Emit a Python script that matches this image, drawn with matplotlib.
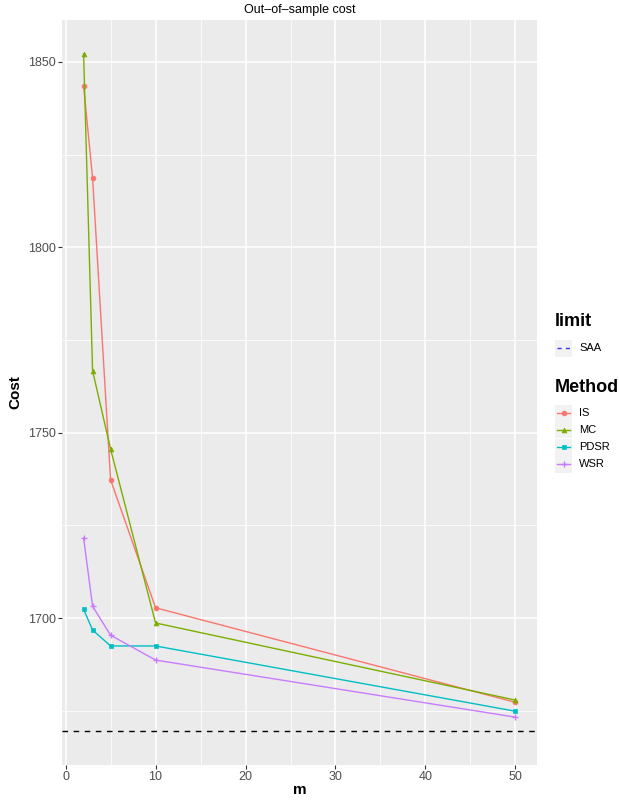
import matplotlib.pyplot as plt
from matplotlib.lines import Line2D
from matplotlib.patches import Rectangle

plt.rcParams["font.family"] = ["Liberation Sans", "DejaVu Sans"]

m = [2, 3, 5, 10, 50]
cost_is = [1843.5, 1818.7, 1737.3, 1702.8, 1677.3]
cost_mc = [1852.2, 1766.7, 1745.6, 1698.7, 1677.9]
cost_pdsr = [1702.4, 1696.8, 1692.5, 1692.5, 1674.9]
cost_wsr = [1721.6, 1703.2, 1695.4, 1688.7, 1673.3]
saa = 1669.5

methods = ["IS", "MC", "PDSR", "WSR"]
series = [cost_is, cost_mc, cost_pdsr, cost_wsr]
colors = ["#F8766D", "#7CAE00", "#00BFC4", "#C77CFF"]
markers = ["o", "^", "s", "+"]

W, H = 619, 802
fig = plt.figure(figsize=(W / 100, H / 100), dpi=100)
ax = fig.add_axes([62 / W, 1 - 765 / H, (537 - 62) / W, (765 - 20) / H])
ax.set_facecolor("#EBEBEB")
for s in ax.spines.values():
    s.set_visible(False)


def msize(mk):
    return 5 if mk == "+" else 3.5


for ys, c, mk in zip(series, colors, markers):
    ax.plot(m, ys, color=c, lw=1, marker=mk, ms=msize(mk),
            mew=1 if mk == "+" else 0.5, zorder=3)
ax.axhline(saa, color="black", lw=1, ls=(0, (4, 4)), zorder=3)

ax.set_xlim(-0.4, 52.4)
ax.set_ylim(1660.4, 1861.3)
ax.set_xticks([0, 10, 20, 30, 40, 50])
ax.set_yticks([1700, 1750, 1800, 1850])
ax.set_xticks([5, 15, 25, 35, 45], minor=True)
ax.set_yticks([1675, 1725, 1775, 1825], minor=True)
ax.grid(which="major", color="white", lw=1.1)
ax.grid(which="minor", color="white", lw=0.55)
ax.set_axisbelow(True)
ax.tick_params(which="major", length=3, color="#333333", labelcolor="#4D4D4D",
               labelsize=9, width=0.8, pad=1.5)
ax.tick_params(which="minor", length=0)

ax.set_xlabel("m", fontsize=11, fontweight="bold", labelpad=0)
ax.set_ylabel("Cost", fontsize=11, fontweight="bold", labelpad=4)
ax.set_title("Out\u2013of\u2013sample cost", fontsize=9, pad=5)

# legends, drawn by hand in figure pixels
def px(x, y):
    return x / W, 1 - y / H

fig.text(*px(555, 322), "limit", fontsize=13, fontweight="bold", va="center")
kx, kw, kh = 555, 17, 17
fig.add_artist(Rectangle(px(kx, 348 + kh / 2), kw / W, kh / H,
                         transform=fig.transFigure, color="#F2F2F2", lw=0))
fig.add_artist(Line2D([px(kx + 2, 0)[0], px(kx + kw - 2, 0)[0]],
                      [px(0, 348)[1]] * 2, transform=fig.transFigure,
                      color="#3A3AE0", lw=1, ls=(0, (3, 3))))
fig.text(*px(579, 348), "SAA", fontsize=8, va="center")

fig.text(*px(555, 387), "Method", fontsize=13, fontweight="bold", va="center")
for i, (name, c, mk) in enumerate(zip(methods, colors, markers)):
    yc = 413 + 17 * i
    fig.add_artist(Rectangle(px(kx, yc + kh / 2), kw / W, kh / H,
                             transform=fig.transFigure, color="#F2F2F2", lw=0))
    fig.add_artist(Line2D([px(kx + 2, 0)[0], px(kx + kw - 2, 0)[0]],
                          [px(0, yc)[1]] * 2, transform=fig.transFigure,
                          color=c, lw=1))
    fig.add_artist(Line2D([px(kx + kw / 2, 0)[0]], [px(0, yc)[1]],
                          transform=fig.transFigure, color=c, marker=mk,
                          ms=msize(mk), mew=1 if mk == "+" else 0.5, lw=0))
    fig.text(*px(579, yc), name, fontsize=8, va="center")

fig.savefig("out.png", dpi=100, facecolor="white")
